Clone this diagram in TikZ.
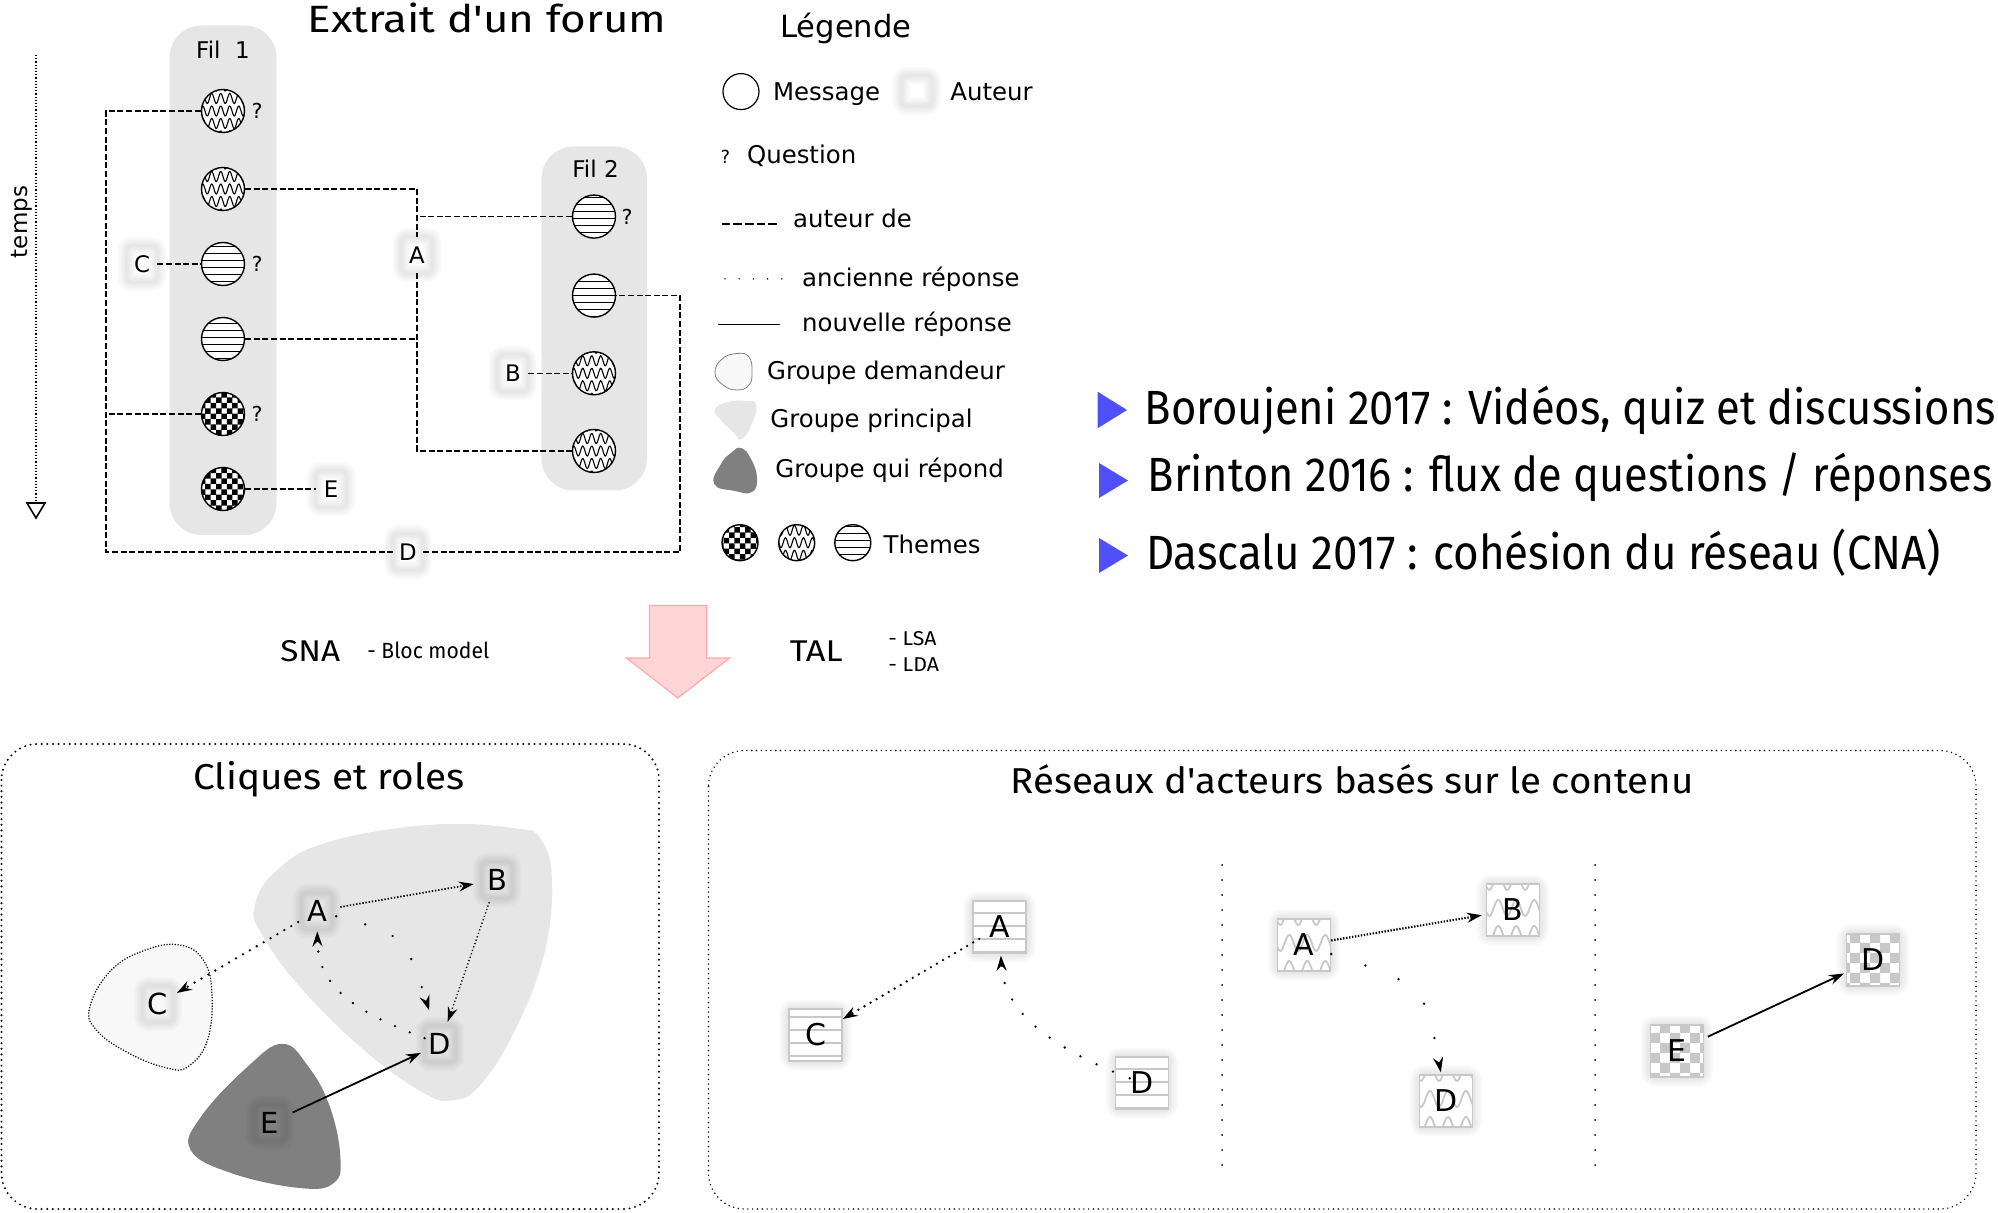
\documentclass[tikz,border=0pt]{standalone}
\usepackage{fontspec}
\setmainfont{DejaVu Sans}
\newfontfamily\ubu{Fira Sans}
\usepackage{graphicx}
\usetikzlibrary{arrows.meta,patterns}
\pgfdeclarelayer{blobs}
\pgfdeclarelayer{glow}
\pgfsetlayers{blobs,glow,main}

\definecolor{boxgray}{RGB}{230,230,230}
\definecolor{darkblob}{RGB}{128,128,128}
\definecolor{lightblob}{RGB}{248,248,248}
\definecolor{pinkfill}{RGB}{255,213,213}
\definecolor{pinkdraw}{RGB}{255,170,170}
\definecolor{bulletblue}{RGB}{80,80,250}
\definecolor{patgray}{RGB}{200,200,200}

\pgfdeclarepatternformonly{mychecker}{\pgfqpoint{-0.1pt}{-0.1pt}}{\pgfqpoint{5.5pt}{5.5pt}}{\pgfqpoint{5.4pt}{5.4pt}}{%
  \pgfpathrectangle{\pgfqpoint{0pt}{0pt}}{\pgfqpoint{2.75pt}{2.75pt}}%
  \pgfpathrectangle{\pgfqpoint{2.7pt}{2.7pt}}{\pgfqpoint{2.75pt}{2.75pt}}%
  \pgfusepath{fill}}
\pgfdeclarepatternformonly{bigchecker}{\pgfqpoint{-0.1pt}{-0.1pt}}{\pgfqpoint{10.1pt}{10.1pt}}{\pgfqpoint{10pt}{10pt}}{%
  \pgfpathrectangle{\pgfqpoint{0pt}{0pt}}{\pgfqpoint{5.05pt}{5.05pt}}%
  \pgfpathrectangle{\pgfqpoint{5pt}{5pt}}{\pgfqpoint{5.05pt}{5.05pt}}%
  \pgfusepath{fill}}
\pgfdeclarepatternformonly{mystripes}{\pgfqpoint{-1pt}{-1pt}}{\pgfqpoint{4.5pt}{4.5pt}}{\pgfqpoint{3.5pt}{3.5pt}}{%
  \pgfsetlinewidth{0.45pt}%
  \pgfpathmoveto{\pgfqpoint{-0.1pt}{0.5pt}}\pgfpathlineto{\pgfqpoint{3.6pt}{0.5pt}}%
  \pgfusepath{stroke}}
\pgfdeclarepatternformonly{widestripes}{\pgfqpoint{-1pt}{-1pt}}{\pgfqpoint{7.5pt}{7.5pt}}{\pgfqpoint{6.5pt}{6.5pt}}{%
  \pgfsetlinewidth{0.6pt}%
  \pgfpathmoveto{\pgfqpoint{-0.1pt}{0.5pt}}\pgfpathlineto{\pgfqpoint{6.6pt}{0.5pt}}%
  \pgfusepath{stroke}}

\newcommand\fitW[2]{\resizebox{#1}{\height}{#2}}
\newcommand\glowaround[1]{%
  \begin{pgfonlayer}{glow}%
  \foreach \gw in {1.5pt,3pt,4.5pt,6pt,7.5pt,9pt}{%
    \draw[black, draw opacity=0.016, line width=\gw, rounded corners=3pt] (#1.south west) rectangle (#1.north east);}%
  \end{pgfonlayer}}

\tikzset{
  lab/.style={inner sep=0pt, font=\fontsize{11.5}{13}\selectfont},
  leg/.style={inner sep=0pt, anchor=base west, font=\fontsize{12.2}{14}\selectfont},
  filbox/.style={rectangle, rounded corners=16pt, fill=boxgray, inner sep=0pt},
  msg/.style={circle, draw, line width=0.7pt, minimum size=21.5pt, inner sep=0pt, fill=white},
  chk/.style={preaction={fill=white}, pattern=mychecker},
  strp/.style={preaction={fill=white}, pattern=mystripes},
  wav/.style={path picture={\foreach \k in {-3,...,3}{\draw[line width=0.55pt, shift={(path picture bounding box.center)}, xslant=0.45] plot[domain=-40:40, samples=121, smooth] (\x,{\k*12.5+5*sin(\x*40)});}}},
  qm/.style={inner sep=0pt, font=\fontsize{10.3}{12}\selectfont},
  auth/.style={inner sep=0pt, minimum width=15pt, minimum height=18pt, font=\fontsize{11.4}{13}\selectfont},
  authline/.style={line width=0.75pt, dash pattern=on 3pt off 1.3pt},
  cl/.style={inner sep=0pt, minimum width=15pt, minimum height=18pt, font=\fontsize{14.5}{16}\selectfont},
  rbox/.style={draw=patgray, line width=0.7pt, minimum width=26.5pt, minimum height=26pt, inner sep=0pt, fill=white, font=\fontsize{15}{17}\selectfont},
  rstrp/.style={preaction={fill=white}, pattern=widestripes, pattern color=patgray},
  rchk/.style={preaction={fill=white}, pattern=bigchecker, pattern color=patgray},
  rwav/.style={path picture={\foreach \k in {-2,...,1}{\draw[patgray, line width=0.9pt, shift={(path picture bounding box.center)}, xslant=0.45] plot[domain=-50:50, samples=121, smooth] (\x,{\k*26+13+8*sin(\x*20)});}}},
  stl/.style={-{Stealth[length=7.5pt,width=5pt,inset=2.5pt]}},
  dotsp/.style={line width=1.3pt, line cap=round, dash pattern=on 0pt off #1},
  dotbox/.style={line width=1.1pt, line cap=round, dash pattern=on 0pt off 2.8pt, rounded corners=18pt},
}

\begin{document}
\begin{tikzpicture}[x=0.5pt,y=-0.5pt]
\useasboundingbox (0,0) rectangle (1998,1213);

% ---------------- Forum ----------------
\node[anchor=base, inner sep=0pt] (title) at (487,33) {\fitW{179.5pt}{\ubu\fontsize{19}{22}\selectfont Extrait d'un forum}};

\node[filbox, minimum width=53.5pt, minimum height=254.75pt] (fil1) at (223,280.25) {};
\node[filbox, minimum width=52.75pt, minimum height=172pt] (fil2) at (594.25,318.5) {};
\node[lab, anchor=base] (fil1lab) at (223,59) {Fil\ \ 1};
\node[lab, anchor=base] (fil2lab) at (595.5,178) {Fil 2};

\node[msg, wav] (m11) at (223,111) {};
\node[msg, wav] (m12) at (223,189) {};
\node[msg, strp] (m13) at (223,264) {};
\node[msg, strp] (m14) at (223,339) {};
\node[msg, chk] (m15) at (223,414) {};
\node[msg, chk] (m16) at (223,489) {};
\node[msg, strp] (m21) at (594,216.6) {};
\node[msg, strp] (m22) at (594,295.6) {};
\node[msg, wav] (m23) at (594,373.3) {};
\node[msg, wav] (m24) at (594,451) {};

\node[qm] (q11) at (257,111) {?};
\node[qm] (q13) at (257,264) {?};
\node[qm] (q15) at (257,414) {?};
\node[qm] (q21) at (627,216.6) {?};

\node[auth] (aC) at (142,264) {C};
\node[auth] (aA) at (417,255) {A};
\node[auth] (aB) at (513,373.3) {B};
\node[auth] (aE) at (331,489) {E};
\node[auth] (aD) at (408,552) {D};
\glowaround{aC}\glowaround{aA}\glowaround{aB}\glowaround{aE}\glowaround{aD}

\coordinate (L1) at (106,111);
\coordinate (L5) at (106,414);
\coordinate (Lb) at (106,552);
\coordinate (Rb) at (680,552);
\coordinate (R2) at (680,295.6);
\coordinate (A1) at (417,189);
\coordinate (A2) at (417,216.6);
\coordinate (A4) at (417,339);
\coordinate (Ab) at (417,451);

\draw[authline] (m11) -- (L1) -- (Lb) -- (aD);
\draw[authline] (m15) -- (L5);
\draw[authline] (aD) -- (Rb) -- (R2) -- (m22);
\draw[authline] (aC) -- (m13);
\draw[authline] (m16) -- (aE);
\draw[authline] (aB) -- (m23);
\draw[authline] (m12) -- (A1) -- (aA);
\draw[authline] (m21) -- (A2);
\draw[authline] (m14) -- (A4);
\draw[authline] (aA) -- (Ab) -- (m24);

% time axis
\coordinate (t0) at (36,55);
\coordinate (t1) at (36,503);
\draw[densely dotted, line width=0.6pt] (t0) -- (t1);
\draw[line width=0.8pt, fill=white, line join=miter] (27,503) -- (45,503) -- (36,518) -- cycle;
\node[lab, rotate=90] (temps) at (22,222) {temps};

% ---------------- Legend ----------------
\node[anchor=base, inner sep=0pt, font=\fontsize{15.3}{17}\selectfont] (legtitle) at (846,37.2) {Légende};
\node[msg, minimum size=18pt, line width=0.6pt] (legmsg) at (741,91.6) {};
\node[leg] (legmsgt) at (772.7,100.4) {Message};
\node[inner sep=0pt, minimum size=15pt] (legaut) at (916.7,91) {};
\glowaround{legaut}
\node[leg] (legautt) at (950,100.4) {Auteur};
\node[inner sep=0pt, anchor=base, font=\fontsize{9}{10}\selectfont] (legq) at (725.5,163.6) {?};
\node[leg] (legqt) at (746.7,163.6) {Question};
\coordinate (ld0) at (721.7,224); \coordinate (ld1) at (778.3,224);
\draw[line width=0.7pt, dash pattern=on 4.3pt off 1.5pt] (ld0) -- (ld1);
\node[leg] (legdash) at (792.7,227.5) {auteur de};
\coordinate (lo0) at (725,278.9); \coordinate (lo1) at (782,278.9);
\draw[line width=0.8pt, line cap=round, dash pattern=on 0pt off 7.1pt] (lo0) -- (lo1);
\node[leg] (legdot) at (801.7,286.3) {ancienne réponse};
\coordinate (ls0) at (718.3,324.6); \coordinate (ls1) at (780,324.6);
\draw[line width=0.6pt] (ls0) -- (ls1);
\node[leg] (legsol) at (801.7,332) {nouvelle réponse};
\draw[fill=lightblob, draw=gray, line width=0.4pt] plot[smooth cycle, tension=0.8] coordinates {(715,373) (722,359) (737,353.5) (749,357) (752,372) (749,385) (737,390) (723,385)};
\node[leg] (legdem) at (766.7,379.2) {Groupe demandeur};
\fill[boxgray] plot[smooth cycle, tension=0.8] coordinates {(715,409) (728,402) (746,401) (756,404) (753,421) (742,439) (733,432) (719,418)};
\node[leg] (legpri) at (770,427.6) {Groupe principal};
\fill[darkblob] plot[smooth cycle, tension=0.8] coordinates {(741,448) (751,459) (757,478) (752,492) (735,491) (714,484) (721,464) (731,453)};
\node[leg] (legrep) at (775,477.8) {Groupe qui répond};
\node[msg, chk, minimum size=18pt] (legth1) at (740,542.7) {};
\node[msg, wav, minimum size=18pt] (legth2) at (796.7,542.7) {};
\node[msg, strp, minimum size=18pt] (legth3) at (852.8,542.7) {};
\node[leg] (legthe) at (883.3,554) {Themes};

% ---------------- Bullets ----------------
\fill[bulletblue] (1097.6,391.7) -- (1127,410) -- (1097.6,428.3) -- cycle;
\fill[bulletblue] (1099,463) -- (1128,480.5) -- (1099,498) -- cycle;
\fill[bulletblue] (1099,538) -- (1128,555.5) -- (1099,573) -- cycle;
\node[anchor=base west, inner sep=0pt] (bul1) at (1144.4,425) {\fitW{425.5pt}{\ubu\fontsize{24}{28}\selectfont Boroujeni 2017 : Vidéos, quiz et discussions}};
\node[anchor=base west, inner sep=0pt] (bul2) at (1147.3,491.7) {\fitW{422.3pt}{\ubu\fontsize{24}{28}\selectfont Brinton 2016 : flux de questions / réponses}};
\node[anchor=base west, inner sep=0pt] (bul3) at (1145.6,570) {\fitW{397.6pt}{\ubu\fontsize{24}{28}\selectfont Dascalu 2017 : cohésion du réseau (CNA)}};

% ---------------- SNA / TAL ----------------
\node[anchor=base west, inner sep=0pt] (sna) at (280,662) {\fitW{29.9pt}{\ubu\fontsize{15}{18}\selectfont SNA}};
\node[anchor=base west, inner sep=0pt] (bloc) at (367,659) {\fitW{60.9pt}{\ubu\fontsize{11}{13}\selectfont - Bloc model}};
\node[anchor=base west, inner sep=0pt] (tal) at (789.5,662) {\fitW{26.4pt}{\ubu\fontsize{15}{18}\selectfont TAL}};
\node[anchor=base west, inner sep=0pt] (lsa) at (888,645.5) {\fitW{24pt}{\ubu\fontsize{10}{12}\selectfont - LSA}};
\node[anchor=base west, inner sep=0pt] (lda) at (888,671) {\fitW{25.3pt}{\ubu\fontsize{10}{12}\selectfont - LDA}};
\draw[fill=pinkfill, draw=pinkdraw, line width=0.6pt, line join=miter] (649.5,605.4) -- (706.7,605.4) -- (706.7,658) -- (729.7,658) -- (677.8,698) -- (626.4,658) -- (649.5,658) -- cycle;

% ---------------- Cliques et roles ----------------
\draw[dotbox] (1.5,744) rectangle (659,1209);
\node[anchor=base, inner sep=0pt] (cltitle) at (329,790) {\fitW{135.5pt}{\ubu\fontsize{18}{21}\selectfont Cliques et roles}};
\begin{pgfonlayer}{blobs}
\fill[boxgray] plot[smooth cycle, tension=0.7] coordinates {(254.7,906.6) (274,873) (325,843) (428,825) (513.6,828) (541.4,840) (552,883) (543.6,956.5) (513.6,1033) (479.4,1086) (453.7,1100) (423.7,1093) (363.8,1050) (299.6,986.5) (261,933)};
\draw[fill=lightblob, line width=0.6pt, dash pattern=on 0.6pt off 0.8pt] plot[smooth cycle, tension=0.7] coordinates {(89.9,1006.5) (111.3,970) (145.5,950) (179.8,945) (203.3,960) (211.9,993) (207.6,1040) (188.3,1066.4) (167,1068) (128.4,1053) (96.3,1030)};
\fill[darkblob] plot[smooth cycle, tension=0.7] coordinates {(282.5,1043.8) (308.2,1066.4) (329.6,1106) (340.3,1156) (333.8,1183) (299.6,1188) (231,1173) (190.5,1149.7) (201.2,1116.4) (248,1066.4)};
\end{pgfonlayer}
\node[cl] (cA) at (317,911) {A};
\node[cl] (cB) at (497,880) {B};
\node[cl] (cC) at (158,1004) {C};
\node[cl] (cD) at (440,1044) {D};
\node[cl] (cE) at (270,1123) {E};
\glowaround{cA}\glowaround{cB}\glowaround{cC}\glowaround{cD}\glowaround{cE}
\draw[stl, line width=0.9pt, dash pattern=on 0.7pt off 0.9pt, shorten >=4pt, shorten <=4pt] (cA) -- (cB);
\draw[stl, line width=0.7pt, dash pattern=on 0.6pt off 1.2pt, shorten >=2pt, shorten <=2pt] (cB) -- (cD);
\draw[stl, dotsp=4pt, shorten <=2pt, shorten >=2pt] (cA) -- (cC);
\draw[stl, dotsp=15pt, shorten >=8pt, shorten <=2pt] (cA) .. controls (405,935) .. (cD);
\draw[stl, dotsp=8pt, shorten >=1pt] (cD) .. controls (350,1010) and (318,985) .. (cA);
\draw[stl, line width=0.9pt, shorten >=2pt, shorten <=4pt] (cE) -- (cD);

% ---------------- Reseaux ----------------
\draw[dotbox, line width=0.8pt, dash pattern=on 0pt off 2.4pt] (708.5,750.5) rectangle (1976,1209);
\node[anchor=base, inner sep=0pt] (rtitle) at (1352,793) {\fitW{341.5pt}{\ubu\fontsize{18}{21}\selectfont Réseaux d'acteurs basés sur le contenu}};
\coordinate (s1a) at (1222,865); \coordinate (s1b) at (1222,1173);
\coordinate (s2a) at (1595,865); \coordinate (s2b) at (1595,1173);
\draw[line width=1pt, line cap=round, dash pattern=on 0pt off 7.5pt] (s1a) -- (s1b);
\draw[line width=1pt, line cap=round, dash pattern=on 0pt off 7.5pt] (s2a) -- (s2b);

\node[rbox, rstrp] (rA1) at (999.5,927) {A};
\node[rbox, rstrp] (rC1) at (815.5,1035) {C};
\node[rbox, rstrp] (rD1) at (1142,1083) {D};
\node[rbox, rwav] (rA2) at (1304,945) {A};
\node[rbox, rwav] (rB2) at (1513,910) {B};
\node[rbox, rwav] (rD2) at (1446,1101) {D};
\node[rbox, rchk] (rD3) at (1873,960) {D};
\node[rbox, rchk] (rE3) at (1677,1051) {E};
\glowaround{rA1}\glowaround{rC1}\glowaround{rD1}\glowaround{rA2}\glowaround{rB2}\glowaround{rD2}\glowaround{rD3}\glowaround{rE3}

\draw[stl, dotsp=3.5pt, shorten <=-4pt] (rA1) -- (rC1);
\draw[stl, dotsp=9pt, shorten <=-8pt, shorten >=1pt] (rD1) .. controls (1030,1040) and (1003,1000) .. (rA1);
\draw[stl, line width=1.1pt, dash pattern=on 0.7pt off 0.8pt, shorten >=2pt] (rA2) -- (rB2);
\draw[stl, dotsp=18pt, shorten >=1pt] (rA2) .. controls (1425,985) .. (rD2);
\draw[stl, line width=0.9pt, shorten >=1pt, shorten <=2pt] (rE3) -- (rD3);
\end{tikzpicture}
\end{document}
